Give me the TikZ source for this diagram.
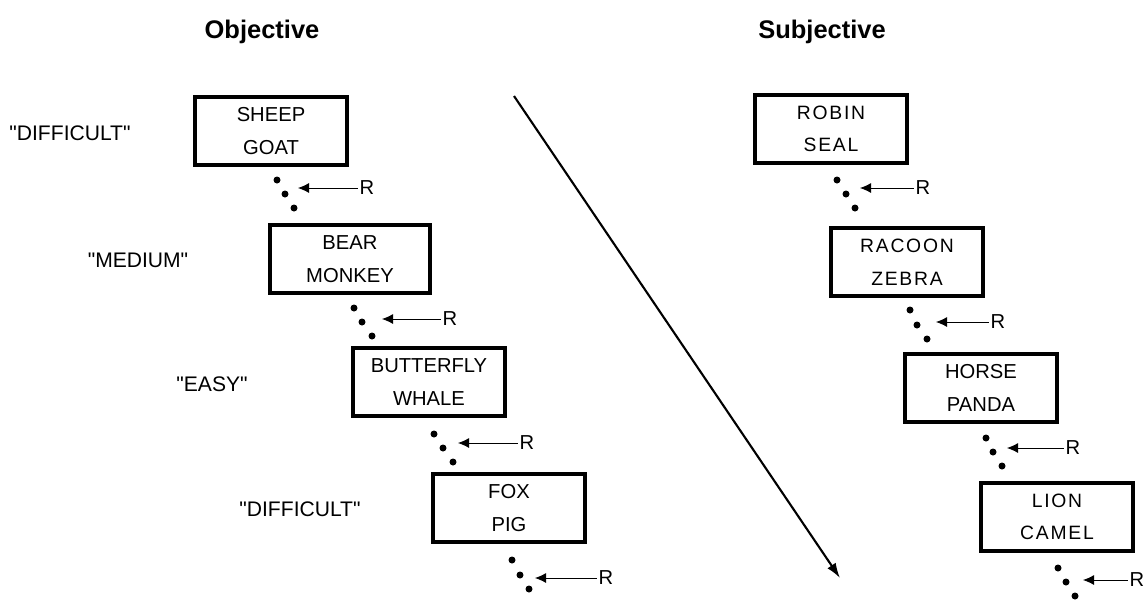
\documentclass[tikz,border=0pt]{standalone}
\usepackage{fontspec}
\setmainfont{Liberation Sans}
\newfontfamily\widefont[LetterSpace=9]{Liberation Sans}
\usetikzlibrary{arrows.meta,positioning}

\begin{document}
\begin{tikzpicture}[
    x=0.02cm, y=-0.02cm,
    pair/.style={rectangle, draw, line width=2.2pt, minimum width=3.05cm, minimum height=1.36cm, align=center, inner sep=0pt, font=\fontsize{11.5}{18.5}\selectfont},
    wpair/.style={pair, font=\widefont\fontsize{11}{18.5}\selectfont},
    level/.style={font=\fontsize{12}{14}\selectfont},
    head/.style={font=\bfseries\fontsize{14.5}{16}\selectfont},
    dot/.style={circle, fill, inner sep=0pt, minimum size=0.14cm},
    rlab/.style={inner sep=1pt, font=\fontsize{11.5}{13}\selectfont},
    pointer/.style={-{Latex[length=0.22cm, width=0.2cm]}, line width=0.5pt},
    time/.style={-{Latex[length=0.3cm, width=0.2cm]}, line width=1.2pt}
]
\useasboundingbox (0,0) rectangle (1146,600);

% headings
\node[head] (objective) at (262,32) {Objective};
\node[head] (subjective) at (822,32) {Subjective};

% objective side
\node[pair] (sheep) at (271,131) {SHEEP\\GOAT};
\node[pair, minimum width=3.2cm] (bear) at (350,259) {BEAR\\MONKEY};
\node[pair] (butterfly) at (429,382) {BUTTERFLY\\WHALE};
\node[pair] (fox) at (509,508) {FOX\\PIG};

\node[level] (diff1) at (70,133) {\textquotedbl DIFFICULT\textquotedbl};
\node[level] (medium) at (138,260) {\textquotedbl MEDIUM\textquotedbl};
\node[level] (easy) at (212,384) {\textquotedbl EASY\textquotedbl};
\node[level] (diff2) at (300,509) {\textquotedbl DIFFICULT\textquotedbl};

% subjective side
\node[wpair] (robin) at (831,129) {ROBIN\\SEAL};
\node[wpair] (racoon) at (907,262) {RACOON\\ZEBRA};
\node[pair] (horse) at (981,388) {HORSE\\PANDA};
\node[wpair] (lion) at (1057,517) {LION\\CAMEL};

% retention intervals, objective
\node[dot] at (277,180) {};
\node[dot] at (285,194) {};
\node[dot] at (294,208) {};
\node[rlab] (r1) at (367,188) {R};
\coordinate (t1) at (298,188);
\draw[pointer] (r1) -- (t1);

\node[dot] at (354,308) {};
\node[dot] at (362,322) {};
\node[dot] at (372,336) {};
\node[rlab] (r2) at (450,319) {R};
\coordinate (t2) at (382,319);
\draw[pointer] (r2) -- (t2);

\node[dot] at (434,434) {};
\node[dot] at (443,448) {};
\node[dot] at (453,462) {};
\node[rlab] (r3) at (527,443) {R};
\coordinate (t3) at (458,443);
\draw[pointer] (r3) -- (t3);

\node[dot] at (512,560) {};
\node[dot] at (520,575) {};
\node[dot] at (529,589) {};
\node[rlab] (r4) at (606,578) {R};
\coordinate (t4) at (535,578);
\draw[pointer] (r4) -- (t4);

% retention intervals, subjective
\node[dot] at (837,180) {};
\node[dot] at (846,194) {};
\node[dot] at (855,208) {};
\node[rlab] (r5) at (923,188) {R};
\coordinate (t5) at (860,188);
\draw[pointer] (r5) -- (t5);

\node[dot] at (910,310) {};
\node[dot] at (917,325) {};
\node[dot] at (927,339) {};
\node[rlab] (r6) at (998,322) {R};
\coordinate (t6) at (936,322);
\draw[pointer] (r6) -- (t6);

\node[dot] at (986,438) {};
\node[dot] at (993,452) {};
\node[dot] at (1002,466) {};
\node[rlab] (r7) at (1073,448) {R};
\coordinate (t7) at (1007,448);
\draw[pointer] (r7) -- (t7);

\node[dot] at (1058,568) {};
\node[dot] at (1066,582) {};
\node[dot] at (1075,596) {};
\node[rlab] (r8) at (1137,580) {R};
\coordinate (t8) at (1083,580);
\draw[pointer] (r8) -- (t8);

% divider
\coordinate (top) at (514,96);
\coordinate (bottom) at (840,578);
\draw[time] (top) -- (bottom);
\end{tikzpicture}
\end{document}
